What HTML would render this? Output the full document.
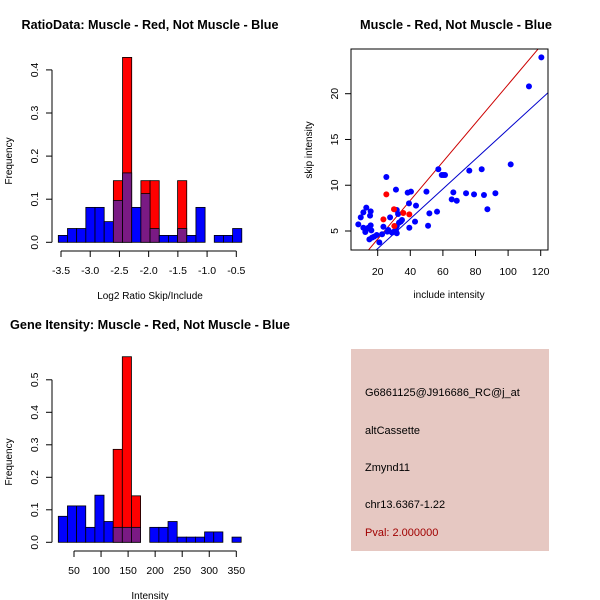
<!DOCTYPE html>
<html><head><meta charset="utf-8"><style>
body{margin:0;background:#fff}
svg{display:block;font-family:"Liberation Sans",sans-serif}
</style></head><body>
<svg id="s" width="600" height="600" viewBox="0 0 600 600">
<rect width="600" height="600" fill="#fff"/>
<text x="150" y="29" text-anchor="middle" font-weight="bold" font-size="12.5" textLength="257" lengthAdjust="spacingAndGlyphs">RatioData: Muscle - Red, Not Muscle - Blue</text>
<text x="456" y="29" text-anchor="middle" font-weight="bold" font-size="12.5" textLength="192" lengthAdjust="spacingAndGlyphs">Muscle - Red, Not Muscle - Blue</text>
<text x="150" y="329" text-anchor="middle" font-weight="bold" font-size="12.5" textLength="280" lengthAdjust="spacingAndGlyphs">Gene Itensity: Muscle - Red, Not Muscle - Blue</text>
<g id="g1"></g>
<g id="g2"></g>
<g id="g3"></g>
<g>
<rect x="351" y="349" width="198" height="202" fill="#e6c8c2"/>
<text x="365" y="396" font-size="11">G6861125@J916686_RC@j_at</text>
<text x="365" y="434" font-size="11">altCassette</text>
<text x="365" y="471" font-size="11">Zmynd11</text>
<text x="365" y="508" font-size="11">chr13.6367-1.22</text>
<text x="365" y="536" font-size="11" fill="#a00000">Pval: 2.000000</text>
</g>
</svg>
<script>
// ---- ratio histogram data ----
const ratioBinStart = -3.546;
const ratioBinWidth = 0.157;
const ratioBlue = [0.016,0.032,0.032,0.081,0.081,0.048,0.097,0.161,0.081,0.113,0.032,0.016,0.016,0.032,0.016,0.081,0,0.016,0.016,0.032];
const ratioRed  = [0,0,0,0,0,0,0.143,0.429,0,0.143,0.143,0,0,0.143,0,0,0,0,0,0];
const ratioXTicks = [-3.5,-3.0,-2.5,-2.0,-1.5,-1.0,-0.5];
const ratioXTickLabels = ["-3.5","-3.0","-2.5","-2.0","-1.5","-1.0","-0.5"];
const ratioYTicks = [0,0.1,0.2,0.3,0.4];
const ratioYTickLabels = ["0.0","0.1","0.2","0.3","0.4"];
// ---- intensity histogram data ----
const intBinStart = 21;
const intBinWidth = 16.9;
const intBlue = [0.08,0.112,0.112,0.046,0.145,0.064,0.046,0.046,0.046,0,0.046,0.046,0.064,0.016,0.016,0.016,0.032,0.032,0,0.016];
const intRed  = [0,0,0,0,0,0,0.286,0.571,0.143,0,0,0,0,0,0,0,0,0,0,0];
const intXTicks = [50,100,150,200,250,300,350];
const intXTickLabels = ["50","100","150","200","250","300","350"];
const intYTicks = [0,0.1,0.2,0.3,0.4,0.5];
const intYTickLabels = ["0.0","0.1","0.2","0.3","0.4","0.5"];
// ---- scatter data ----
const blueX = [8.1,9.6,11.2,13.0,11.2,12.4,12.8,14.3,15.3,15.7,15.7,16.1,14.9,16.5,17.8,19.4,21.0,22.7,23.5,25.9,26.5,27.6,28.8,30.0,31.2,31.7,31.2,31.7,32.5,33.1,34.1,34.9,31.7,38.4,40.4,39.2,43.5,42.9,39.4,49.9,51.7,50.9,56.4,57.2,59.3,60.3,61.3,65.4,66.4,68.5,74.2,76.2,79.1,83.8,85.2,87.3,92.2,101.6,112.8,120.4,25.3];
const blueY = [5.73,6.49,7.04,7.55,5.36,4.89,5.18,5.36,6.68,7.15,5.62,5.07,4.09,4.27,4.38,4.56,3.76,4.64,5.47,4.93,5.11,6.49,4.82,4.93,5.11,4.75,9.52,7.29,6.86,5.91,6.02,6.20,5.55,9.19,9.30,8.02,7.77,6.02,5.36,9.30,6.93,5.58,7.11,11.74,11.12,11.12,11.12,8.46,9.22,8.31,9.12,11.6,9.0,11.74,8.93,7.37,9.12,12.28,20.8,23.97,10.9];
const redX = [23.5,25.3,30.0,30.2,35.7,39.4];
const redY = [6.27,9.0,7.37,5.55,6.97,6.82];
const redFit = [-0.1,0.211];   // intercept, slope
const blueFit = [-0.18,0.163];
const scXTicks = [20,40,60,80,100,120];
const scXTickLabels = ["20","40","60","80","100","120"];
const scYTicks = [5,10,15,20];
const scYTickLabels = ["5","10","15","20"];

const NS="http://www.w3.org/2000/svg";
function mk(parent,tag,attrs,txt){const e=document.createElementNS(NS,tag);for(const k in attrs)e.setAttribute(k,attrs[k]);if(txt!==undefined)e.textContent=txt;parent.appendChild(e);return e;}

function hist(g,cfg){
  const sx=v=>cfg.x0+(v-cfg.d0)*cfg.kx, sy=v=>cfg.y0-v*cfg.ky;
  const n=cfg.blue.length;
  for(let i=0;i<n;i++){
    const a=cfg.binStart+i*cfg.binW,b=a+cfg.binW;
    const x=sx(a),w=sx(b)-sx(a);
    if(cfg.red[i]>0){
      const r=mk(g,'rect',{x:x,y:sy(cfg.red[i]),width:w,height:cfg.red[i]*cfg.ky,fill:'#ff0000',stroke:'#000','stroke-width':0.8});
      
      
    }
  }
  for(let i=0;i<n;i++){
    const a=cfg.binStart+i*cfg.binW,b=a+cfg.binW;
    const x=sx(a),w=sx(b)-sx(a);
    if(cfg.blue[i]>0){
      const col=cfg.red[i]>0?'#7a1a84':'#0000ff';
      const r=mk(g,'rect',{x:x,y:sy(cfg.blue[i]),width:w,height:cfg.blue[i]*cfg.ky,fill:col,stroke:'#000','stroke-width':0.8});
      
      
    }
  }
  const xa=cfg.xTicks;
  mk(g,'line',{x1:sx(xa[0]),x2:sx(xa[xa.length-1]),y1:cfg.axY,y2:cfg.axY,stroke:'#000'});
  xa.forEach((t,i)=>{
    mk(g,'line',{x1:sx(t),x2:sx(t),y1:cfg.axY,y2:cfg.axY+6,stroke:'#000'});
    const l=mk(g,'text',{x:sx(t),y:cfg.axY+23,'text-anchor':'middle','font-size':10.5},cfg.xLabels[i]);
    
    
  });
  const ya=cfg.yTicks;
  mk(g,'line',{x1:cfg.x0-cfg.axGap,x2:cfg.x0-cfg.axGap,y1:sy(ya[0]),y2:sy(ya[ya.length-1]),stroke:'#000'});
  ya.forEach((t,i)=>{
    const y=sy(t);
    mk(g,'line',{x1:cfg.x0-cfg.axGap,x2:cfg.x0-cfg.axGap-6,y1:y,y2:y,stroke:'#000'});
    const l=mk(g,'text',{x:0,y:0,'text-anchor':'middle','font-size':10.5,transform:`translate(${cfg.x0-cfg.axGap-14},${y}) rotate(-90)`},cfg.yLabels[i]);
    
    
  });
  const yt=mk(g,'text',{x:0,y:0,'text-anchor':'middle','font-size':10,transform:`translate(12,${cfg.yMid}) rotate(-90)`},'Frequency');
  
  
  const xt=mk(g,'text',{x:150,y:cfg.axY+48,'text-anchor':'middle','font-size':10},cfg.xTitle);
  
  
}

hist(document.getElementById('g1'),{blue:ratioBlue,red:ratioRed,binStart:ratioBinStart,binW:ratioBinWidth,
  x0:61,d0:-3.5,kx:(236.3-61)/3,y0:242.3,ky:431,axY:251,axGap:9,
  xTicks:ratioXTicks,xLabels:ratioXTickLabels,yTicks:ratioYTicks,yLabels:ratioYTickLabels,yMid:161,xTitle:'Log2 Ratio Skip/Include'});
hist(document.getElementById('g3'),{blue:intBlue,red:intRed,binStart:intBinStart,binW:intBinWidth,
  x0:74,d0:50,kx:(236.3-74)/300,y0:542.3,ky:325,axY:551,axGap:22,
  xTicks:intXTicks,xLabels:intXTickLabels,yTicks:intYTicks,yLabels:intYTickLabels,yMid:462,xTitle:'Intensity'});

(function(){
  const g=document.getElementById('g2');
  const L=351,R=548,T=49,B=250;
  const kx=1.63, sx=v=>377.7+(v-20)*kx;
  const ky=9.153, sy=v=>231-(v-5)*ky;
  const cp=mk(g,'clipPath',{id:'cp'});mk(cp,'rect',{x:L,y:T,width:R-L,height:B-T});
  const xmin=20+(L-377.7)/kx, xmax=20+(R-377.7)/kx;
  [[redFit,'#cc0000','red-fit-line'],[blueFit,'#0000cc','blue-fit-line']].forEach(([f,c,nm])=>{
    const ln=mk(g,'line',{x1:sx(xmin),y1:sy(f[0]+f[1]*xmin),x2:sx(xmax),y2:sy(f[0]+f[1]*xmax),stroke:c,'stroke-width':1,'clip-path':'url(#cp)'});
    
    
  });
  blueX.forEach((x,i)=>{
    const c=mk(g,'circle',{cx:sx(x),cy:sy(blueY[i]),r:3,fill:'#0000ff'});
    
    
  });
  redX.forEach((x,i)=>{
    const c=mk(g,'circle',{cx:sx(x),cy:sy(redY[i]),r:3,fill:'#ff0000'});
    
    
  });
  mk(g,'rect',{x:L,y:T,width:R-L,height:B-T,fill:'none',stroke:'#000'});
  scXTicks.forEach((t,i)=>{
    mk(g,'line',{x1:sx(t),x2:sx(t),y1:B,y2:B+6,stroke:'#000'});
    const l=mk(g,'text',{x:sx(t),y:B+25,'text-anchor':'middle','font-size':10.5},scXTickLabels[i]);
    
    
  });
  scYTicks.forEach((t,i)=>{
    mk(g,'line',{x1:L,x2:L-6,y1:sy(t),y2:sy(t),stroke:'#000'});
    const l=mk(g,'text',{x:0,y:0,'text-anchor':'middle','font-size':10.5,transform:`translate(${L-13},${sy(t)}) rotate(-90)`},scYTickLabels[i]);
    
    
  });
  const xt=mk(g,'text',{x:449,y:298,'text-anchor':'middle','font-size':10},'include intensity');
  
  
  const yt=mk(g,'text',{x:0,y:0,'text-anchor':'middle','font-size':10,transform:'translate(312,150) rotate(-90)'},'skip intensity');
  
  
})();
</script>
</body></html>
